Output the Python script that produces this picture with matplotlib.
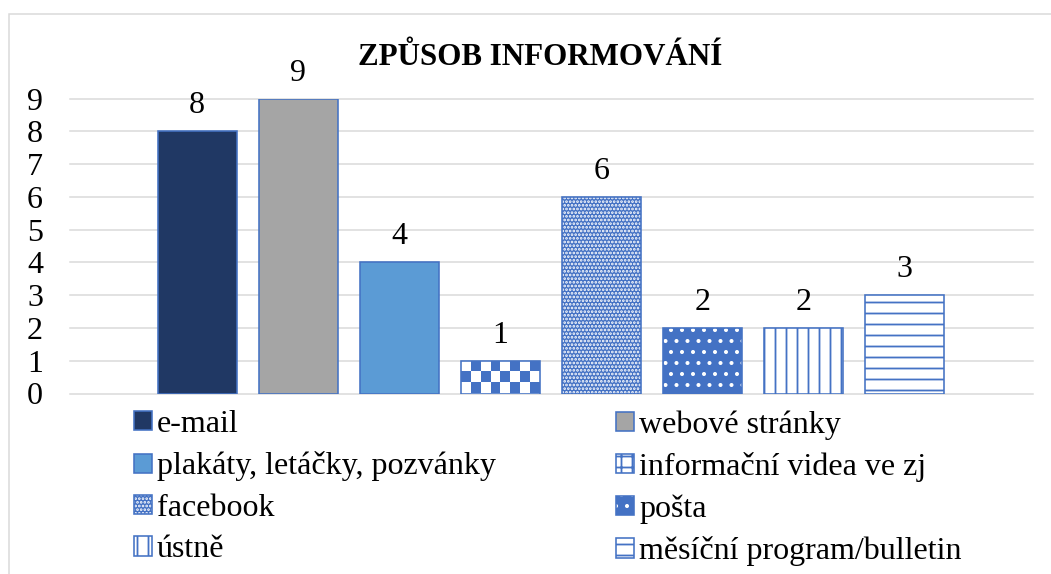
import matplotlib
matplotlib.use('Agg')
import matplotlib.pyplot as plt
import numpy as np
from matplotlib.patches import Patch, Rectangle
from matplotlib.colors import ListedColormap
from matplotlib.legend_handler import HandlerTuple

# data
categories = ['e-mail', 'webové stránky', 'plakáty, letáčky, pozvánky',
              'informační videa ve zj', 'facebook', 'pošta', 'ústně',
              'měsíční program/bulletin']
counts = [8, 9, 4, 1, 6, 2, 2, 3]
y_ticks = list(range(0, 10))
title = 'ZPŮSOB INFORMOVÁNÍ'

# styles
blue = '#4472C4'
faces = ['#203864', '#A5A5A5', '#5B9BD5', 'white', blue, blue, 'white', 'white']
hatches = [None, None, None, None, '...', '.', '|', '-']
hatch_colors = ['none', 'none', 'none', 'none', 'white', 'white', blue, blue]

DPI = 66
W, H = 1051, 574


def pt(px):
    # pixel size -> points at this dpi
    return px * 72 / DPI


FS = pt(32)
plt.rcParams['font.family'] = ['Liberation Serif', 'DejaVu Serif']
plt.rcParams['hatch.linewidth'] = pt(1.8)

fig = plt.figure(figsize=(W / DPI, H / DPI), dpi=DPI)
ax = fig.add_axes([70 / W, 1 - 393.5 / H, 963 / W, 294.8 / H])

x = np.arange(len(categories))
width = 0.78

# fill layer: hatch colour follows edge colour, so the blue outline is a second layer
fills = ax.bar(x, counts, width, color=faces, edgecolor=hatch_colors,
               linewidth=0, zorder=2)
for bar, h in zip(fills, hatches):
    if h:
        bar.set_hatch(h)
outline = ax.bar(x, counts, width, fill=False, edgecolor=blue,
                 linewidth=pt(1.6), zorder=4)

# checker pattern for the video bar
vid = fills[3]
x0, y0 = vid.get_xy()
checker = np.indices((3, 8)).sum(axis=0) % 2
img = ax.imshow(checker, cmap=ListedColormap(['white', blue]),
                extent=(x0, x0 + vid.get_width(), y0, y0 + vid.get_height()),
                aspect='auto', interpolation='nearest', zorder=3)
img.set_clip_path(vid)

ax.bar_label(outline, fontsize=FS, padding=pt(11))

ax.set_xlim(-1.257, 8.267)
ax.set_ylim(0, 9)
ax.set_xticks([])
ax.set_yticks(y_ticks)
ax.tick_params(axis='y', length=0, pad=pt(27), labelsize=FS)
for s in ax.spines.values():
    s.set_visible(False)
ax.yaxis.grid(True, color='#D9D9D9', linewidth=pt(1.5))
ax.set_axisbelow(True)
for line in ax.get_ygridlines():
    line.set_clip_on(False)

# legend, two columns filled row by row
handles = []
for i in range(len(categories)):
    if i == 3:
        f = Patch(facecolor='white', edgecolor=blue, hatch='+', linewidth=0)
    else:
        f = Patch(facecolor=faces[i], edgecolor=hatch_colors[i],
                  hatch=hatches[i], linewidth=0)
    o = Patch(fill=False, edgecolor=blue, linewidth=pt(1.6))
    handles.append((f, o))

for col, left in enumerate([134, 616]):
    idx = list(range(col, len(categories), 2))
    fig.legend([handles[i] for i in idx], [categories[i] for i in idx],
               handler_map={tuple: HandlerTuple(ndivide=1, pad=0)},
               loc='upper left', bbox_to_anchor=(left / W, 1 - 410 / H),
               bbox_transform=fig.transFigure, frameon=False, fontsize=FS,
               borderpad=0, borderaxespad=0, handlelength=0.55,
               handleheight=0.55, handletextpad=0.17, labelspacing=0.39)

fig.text(540 / W, 1 - 65 / H, title, ha='center', va='baseline',
         fontsize=pt(31), fontweight='bold')

# chart area border
fig.add_artist(Rectangle((9 / W, -0.1), 1.2, (H - 14) / H + 0.1,
                         transform=fig.transFigure, fill=False,
                         edgecolor='#D9D9D9', linewidth=pt(1.5)))

fig.savefig('out.png', dpi=DPI)
